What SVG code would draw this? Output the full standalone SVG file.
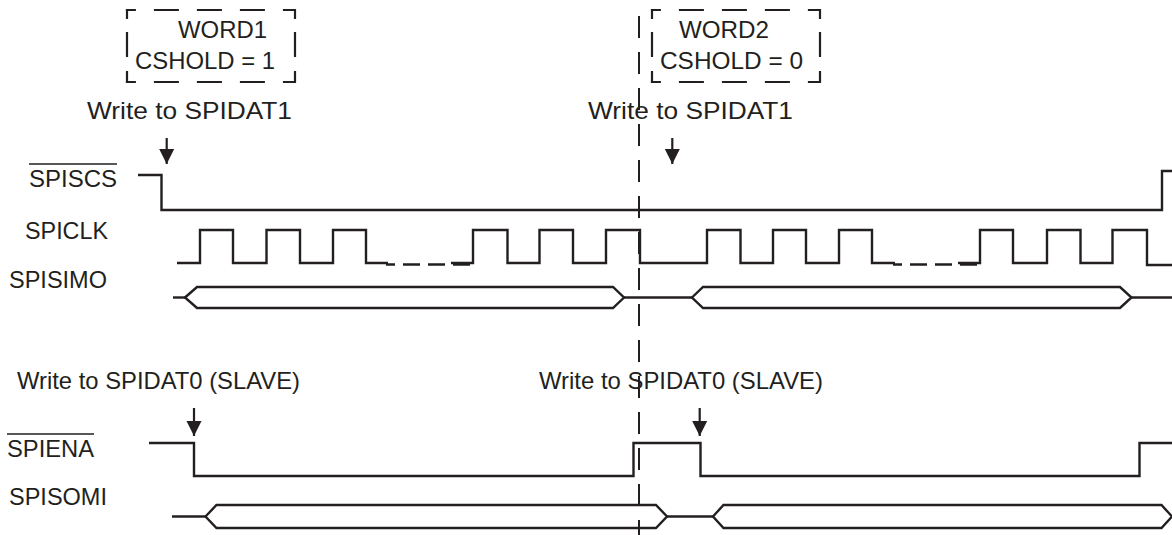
<svg xmlns="http://www.w3.org/2000/svg" width="1172" height="535" viewBox="0 0 1172 535">
<style>
.t{font-family:"Liberation Sans",Arial,sans-serif;font-size:24px;fill:#231f20}
.w{fill:none;stroke:#231f20;stroke-width:2.4;stroke-linejoin:miter;stroke-linecap:butt}
.ov{stroke:#231f20;stroke-width:1.6}
.dh{fill:none;stroke:#231f20;stroke-width:2.2;stroke-linecap:square;stroke-dasharray:7.8 20.2 22.8 20.2 22.8 20.2 22.8 20.2 10}
.dv{fill:none;stroke:#231f20;stroke-width:2.2;stroke-linecap:square;stroke-dasharray:7.8 15.2 22.8 16.2 10}
.dl{fill:none;stroke:#231f20;stroke-width:2.6;stroke-dasharray:9 8 17 8 17 8 17}
.ref{fill:none;stroke:#231f20;stroke-width:2;stroke-dasharray:22 14}
.arr{stroke:#231f20;stroke-width:2.2;marker-end:url(#ah)}
</style>
<defs>
<marker id="ah" markerWidth="16" markerHeight="16" refX="15" refY="8" orient="auto" markerUnits="userSpaceOnUse">
<path d="M0,0.5 L15,8 L0,15.5 Z" fill="#231f20"/>
</marker>
</defs>

<g id="word1-box">
<path class="dh" d="M127,10 H295"/>
<path class="dh" d="M127,82 H295"/>
<path class="dv" d="M127,10 V82"/>
<path class="dv" d="M295,10 V82"/>
<text class="t" x="178" y="38" textLength="89" lengthAdjust="spacingAndGlyphs">WORD1</text>
<text class="t" x="135" y="69" textLength="140" lengthAdjust="spacingAndGlyphs">CSHOLD = 1</text>
</g>

<g id="word2-box">
<path class="dh" d="M652,10 H820"/>
<path class="dh" d="M652,82 H820"/>
<path class="dv" d="M652,10 V82"/>
<path class="dv" d="M820,10 V82"/>
<text class="t" x="679" y="38" textLength="90" lengthAdjust="spacingAndGlyphs">WORD2</text>
<text class="t" x="660" y="69" textLength="143" lengthAdjust="spacingAndGlyphs">CSHOLD = 0</text>
</g>

<g id="labels">
<text class="t" x="87" y="119" textLength="205" lengthAdjust="spacingAndGlyphs">Write to SPIDAT1</text>
<text class="t" x="588" y="119" textLength="205" lengthAdjust="spacingAndGlyphs">Write to SPIDAT1</text>
<text class="t" x="29" y="187" textLength="88" lengthAdjust="spacingAndGlyphs">SPISCS</text>
<line class="ov" x1="29" y1="164" x2="117" y2="164"/>
<text class="t" x="25" y="239" textLength="83" lengthAdjust="spacingAndGlyphs">SPICLK</text>
<text class="t" x="9" y="288" textLength="98" lengthAdjust="spacingAndGlyphs">SPISIMO</text>
<text class="t" x="17" y="389" textLength="283" lengthAdjust="spacingAndGlyphs">Write to SPIDAT0 (SLAVE)</text>
<text class="t" x="539" y="389" textLength="284" lengthAdjust="spacingAndGlyphs">Write to SPIDAT0 (SLAVE)</text>
<text class="t" x="7" y="456.5" textLength="87" lengthAdjust="spacingAndGlyphs">SPIENA</text>
<line class="ov" x1="7" y1="434" x2="94" y2="434"/>
<text class="t" x="9" y="505" textLength="98" lengthAdjust="spacingAndGlyphs">SPISOMI</text>
</g>

<g id="connectors">
<line class="ref" x1="639" y1="16" x2="639" y2="535"/>
<line class="arr" x1="166.7" y1="138" x2="166.7" y2="164"/>
<line class="arr" x1="672.3" y1="138" x2="672.3" y2="164"/>
<line class="arr" x1="194" y1="408" x2="194" y2="436"/>
<line class="arr" x1="699.7" y1="408" x2="699.7" y2="436"/>
</g>

<g id="spiscs">
<path class="w" d="M138,175 H161.5 V210 H1162 V171 H1172"/>
</g>

<g id="spiclk">
<path class="w" d="M177,263 H200 V230 H233 V263 H266.5 V230 H300 V263 H333 V230 H366 V263 H388"/>
<path class="dl" d="M386,264.5 H470"/>
<path class="w" d="M451,263 H473 V230 H507.5 V263 H539.5 V230 H573 V263 H606 V230 H640 V263 H707 V230 H740.5 V263 H773 V230 H806 V263 H839 V230 H872 V263 H895"/>
<path class="dl" d="M893,264.5 H977"/>
<path class="w" d="M958,263 H980 V230 H1013 V263 H1047 V230 H1080.5 V263 H1112.5 V230 H1147 V265 H1172"/>
</g>

<g id="spisimo">
<path class="w" d="M173,297.5 H185"/>
<path class="w" d="M185,297.5 L197,287 H613 L624,297.5 L613,308 H197 Z"/>
<path class="w" d="M624,297.5 H692"/>
<path class="w" d="M692,297.5 L703,287 H1120 L1131.5,297.5 L1120,308 H703 Z"/>
<path class="w" d="M1131.5,297.5 H1172"/>
</g>

<g id="spiena">
<path class="w" d="M149,443 H194 V476 H633.5 V443 H700.5 V476 H1139.5 V443 H1172"/>
</g>

<g id="spisomi">
<path class="w" d="M172,516.5 H205.5"/>
<path class="w" d="M205.5,516.5 L216.5,505 H656 L667,516.5 L656,528 H216.5 Z"/>
<path class="w" d="M667,516.5 H713"/>
<path class="w" d="M713,516.5 L723.5,505 H1161.5 L1172,516.5 L1161.5,528 H723.5 Z"/>
</g>
</svg>
